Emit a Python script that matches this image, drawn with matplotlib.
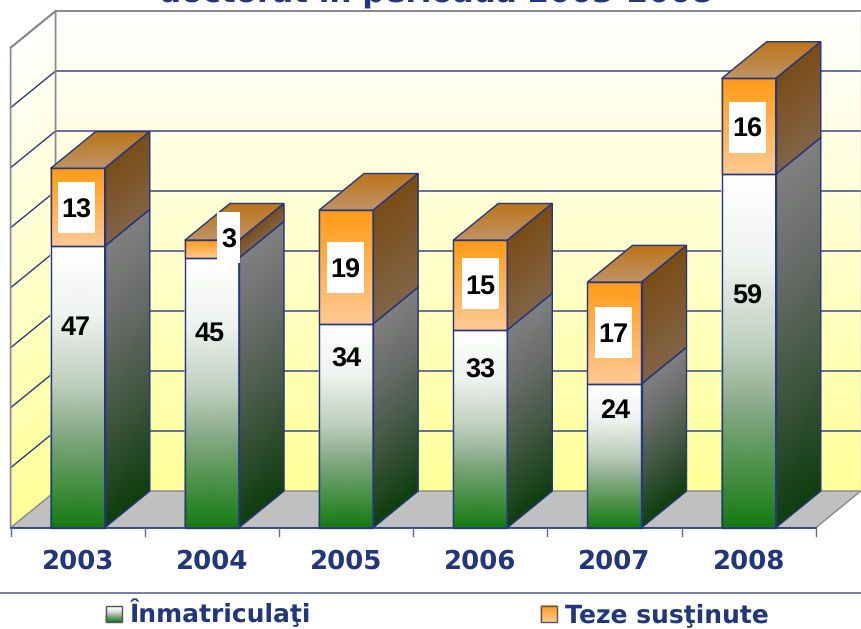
import numpy as np
import matplotlib
matplotlib.use('Agg')
import matplotlib.pyplot as plt
from matplotlib.colors import LinearSegmentedColormap
from matplotlib.patches import Polygon, Rectangle

plt.rcParams['text.hinting'] = 'none'
plt.rcParams['text.hinting_factor'] = 1

# Data
years = ['2003', '2004', '2005', '2006', '2007', '2008']
inmatriculati = [47, 45, 34, 33, 24, 59]
teze = [13, 3, 19, 15, 17, 16]
grid_values = [10, 20, 30, 40, 50, 60, 70, 80]

# Picture layout (pixels)
W, H = 861, 629
BASE_Y = 527.7
UNIT_Y = 5.99
FIRST_X = 77.7
STEP_X = 134.2
BAR_W = 54.0
DEPTH_X = 45.0
DEPTH_Y = 36.7

# label centres that were moved by hand in the original
low_label_x = [76, 210, 346.5, 480, 615, 747]
low_label_y = [325, 331, 356.5, 368, 408, 294]
high_label_x = [76.5, 228.5, 345.5, 480, 613.5, 747]
high_label_y = [207.5, 237.5, 267.5, 283.5, 332, 127]
high_box_w = [37, 23, 37, 37, 37, 37]
BOX_H = 51

NAVY = '#22367c'
LINE = '#25387f'
GRAY = '#85868f'

green_front = [(0, '#ffffff'), (0.25, '#eef2ee'), (0.5, '#bccdbc'), (0.65, '#8aab8a'), (1, '#137a0f')]
green_side = [(0, '#808080'), (0.32, '#666a66'), (0.65, '#3e553e'), (1, '#0e3e0e')]
orange_front = [(0, '#ff9a14'), (1, '#ffc994')]
orange_side = [(0, '#7a4d15'), (1, '#826448')]
orange_top = [(0, '#bb7316'), (1, '#bf9468')]
wall = [(0, '#ffffff'), (1, '#ffff99')]

fig = plt.figure(figsize=(W / 100, H / 100), dpi=100)
ax = fig.add_axes([0, 0, 1, 1])
ax.set_xlim((0 - FIRST_X) / STEP_X, (W - FIRST_X) / STEP_X)
ax.set_ylim((BASE_Y - H) / UNIT_Y, BASE_Y / UNIT_Y)
ax.autoscale(False)
ax.axis('off')

dx = DEPTH_X / STEP_X
dy = DEPTH_Y / UNIT_Y
half = BAR_W / STEP_X / 2


def px_x(x):
    return (x - FIRST_X) / STEP_X


def px_y(y):
    return (BASE_Y - y) / UNIT_Y


def face(p_low_l, p_low_r, p_up_r, p_up_l, stops, z, edge=LINE, lw=1.0):
    # stops run from the upper edge to the lower edge
    cmap = LinearSegmentedColormap.from_list('f', stops)
    ts = np.array([s[0] for s in stops])
    X = np.zeros((len(ts), 2))
    Y = np.zeros((len(ts), 2))
    for i, t in enumerate(ts):
        X[i] = [p_up_l[0] + (p_low_l[0] - p_up_l[0]) * t, p_up_r[0] + (p_low_r[0] - p_up_r[0]) * t]
        Y[i] = [p_up_l[1] + (p_low_l[1] - p_up_l[1]) * t, p_up_r[1] + (p_low_r[1] - p_up_r[1]) * t]
    C = np.column_stack([ts, ts])
    ax.pcolormesh(X, Y, C, cmap=cmap, vmin=0, vmax=1, shading='gouraud', zorder=z)
    if edge:
        ax.add_patch(Polygon([p_low_l, p_low_r, p_up_r, p_up_l], closed=True, fill=False,
                             edgecolor=edge, linewidth=lw, zorder=z + 0.1))


left = -0.5
right = len(years) - 0.5
top = grid_values[-1] * 6.0 / UNIT_Y

# walls and floor
face((left + dx, dy), (right + dx, dy), (right + dx, dy + top), (left + dx, dy + top), wall, 1, edge=None)
face((left, 0), (left + dx, dy), (left + dx, dy + top), (left, top), wall, 1, edge=None)
ax.add_patch(Polygon([(left, 0), (right, 0), (right + dx, dy), (left + dx, dy)], closed=True,
                     facecolor='#c0c0c0', edgecolor=GRAY, linewidth=1, zorder=1.5))

# gridlines on both walls
for v in grid_values[:-1]:
    yv = v * 6.0 / UNIT_Y
    ax.plot([left, left + dx, right + dx], [yv, yv + dy, yv + dy], color=LINE, lw=1, zorder=1.2)
ax.plot([left, left + dx, right + dx], [top, top + dy, top + dy], color=GRAY, lw=1.4, zorder=1.2)
ax.plot([left, left, left + dx, left + dx], [0, top, top + dy, dy], color=GRAY, lw=1.2, zorder=1.2)
ax.plot([right + dx, right + dx], [dy, top + dy], color='#c8c8c8', lw=1, zorder=1.2)

# bars, front to side to top
for i in range(len(years)):
    a = inmatriculati[i]
    b = a + teze[i]
    x0, x1 = i - half, i + half
    z = 3 + i
    face((x1, 0), (x1 + dx, dy), (x1 + dx, a + dy), (x1, a), green_side, z)
    face((x1, a), (x1 + dx, a + dy), (x1 + dx, b + dy), (x1, b), orange_side, z)
    face((x0, 0), (x1, 0), (x1, a), (x0, a), green_front, z)
    face((x0, a), (x1, a), (x1, b), (x0, b), orange_front, z)
    face((x0, b), (x1, b), (x1 + dx, b + dy), (x0 + dx, b + dy), orange_top, z)

# data labels
for i in range(len(years)):
    ax.text(px_x(low_label_x[i]), px_y(low_label_y[i]), str(inmatriculati[i]), ha='center', va='center_baseline',
            family='Liberation Sans', weight='bold', fontsize=19.5, color='black', zorder=20)
    bw = high_box_w[i] / STEP_X
    bh = BOX_H / UNIT_Y
    cx, cy = px_x(high_label_x[i]), px_y(high_label_y[i])
    ax.add_patch(Rectangle((cx - bw / 2, cy - bh / 2), bw, bh, facecolor='white', edgecolor='none', zorder=19))
    ax.text(cx, cy, str(teze[i]), ha='center', va='center_baseline',
            family='Liberation Sans', weight='bold', fontsize=19.5, color='black', zorder=20)

# x axis
ax.plot([left, right], [0, 0], color=LINE, lw=1.2, zorder=15)
tick_low = px_y(536)
for i in range(len(years) + 1):
    ax.plot([i - 0.5, i - 0.5], [0, tick_low], color='#5b6a9c', lw=1, zorder=15)
for i, year in enumerate(years):
    ax.text(i, px_y(559), year, ha='center', va='center_baseline', weight='bold', fontsize=18.5, color=NAVY)

# title, cut off by the top of the picture in the original
ax.text(px_x(435.5), px_y(2.5), 'doctorat în perioada 2003-2008', ha='center', va='baseline',
        weight='bold', fontsize=22, color=NAVY, zorder=20)

# legend
ax.plot([px_x(0), px_x(W)], [px_y(593.3), px_y(593.3)], color='#5b6a9c', lw=1.2)
legend_labels = ['Înmatriculaţi', 'Teze susţinute']
legend_stops = [green_front, orange_front]
swatch_x = [106, 541]
text_x = [130, 565]
for lab, st, sx, tx in zip(legend_labels, legend_stops, swatch_x, text_x):
    x0, x1 = px_x(sx), px_x(sx + 16)
    y0, y1 = px_y(622), px_y(605.7)
    face((x0, y0), (x1, y0), (x1, y1), (x0, y1), st, 20, edge='#55555f')
    ax.text(px_x(tx), px_y(622), lab, ha='left', va='baseline', weight='bold', fontsize=17.8, color=NAVY)

fig.savefig('out.png', dpi=100)
